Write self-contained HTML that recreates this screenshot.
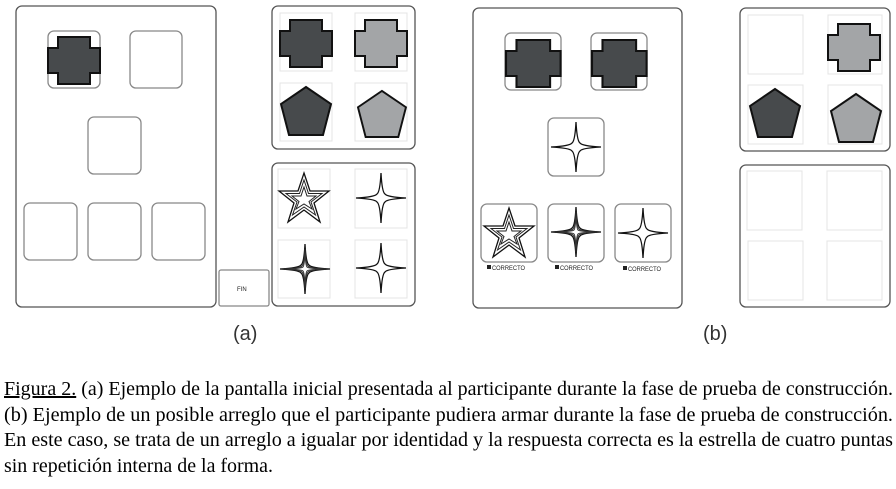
<!DOCTYPE html>
<html><head><meta charset="utf-8"><style>
html,body{margin:0;padding:0;background:#fff;width:896px;height:489px;overflow:hidden}
</style></head><body>
<svg width="896" height="489" viewBox="0 0 896 489" xmlns="http://www.w3.org/2000/svg">
<defs>
<polygon id="cross" points="10,4 42,4 42,15 52,15 52,40 42,40 42,51 10,51 10,40 0,40 0,15 10,15" stroke="#111" stroke-width="2" stroke-linejoin="miter"/>
<polygon id="pent" points="26,2 51,19 43,50 9,50 1,19" stroke="#111" stroke-width="2"/>
<path id="star4" d="M26,1 Q27,20 30,22 Q32,25 51,26 Q32,27 30,30 Q27,32 26,51 Q25,32 22,30 Q20,27 1,26 Q20,25 22,22 Q25,20 26,1Z" fill="#fff" stroke="#111" stroke-width="1.3"/>
<g id="star4d">
<path d="M26,1 Q27,20 30,22 Q32,25 51,26 Q32,27 30,30 Q27,32 26,51 Q25,32 22,30 Q20,27 1,26 Q20,25 22,22 Q25,20 26,1Z" fill="#fff" stroke="#111" stroke-width="1.3"/>
<path d="M26,6 Q26.8,21 29,23 Q31,25.2 46,26 Q31,26.8 29,29 Q26.8,31 26,46 Q25.2,31 23,29 Q21,26.8 6,26 Q21,25.2 23,23 Q25.2,21 26,6Z" fill="none" stroke="#333" stroke-width="1"/>
<path d="M26,10 Q26.6,22.5 28,24 Q29.5,25.4 42,26 Q29.5,26.6 28,28 Q26.6,29.5 26,42 Q25.4,29.5 24,28 Q22.5,26.6 10,26 Q22.5,25.4 24,24 Q25.4,22.5 26,10Z" fill="none" stroke="#333" stroke-width="1"/>
</g>
<g id="star5">
<polygon points="26,1 32,19 51,19 36,31 42,50 26,38 10,50 16,31 1,19 20,19" fill="#fff" stroke="#111" stroke-width="1.3"/>
<polygon points="26,8 30.5,21.5 44,21.5 33,30 37.5,43 26,35 14.5,43 19,30 8,21.5 21.5,21.5" fill="none" stroke="#222" stroke-width="1"/>
<polygon points="26,15 29,24 38,24 31,29.5 34,37 26,32 18,37 21,29.5 14,24 23,24" fill="none" stroke="#222" stroke-width="1"/>
</g>
</defs>
<g fill="none" stroke="#555" stroke-width="1.3">
<rect x="16" y="6" width="200" height="301" rx="6"/>
<rect x="48" y="31" width="52" height="57" rx="6" stroke="#888"/>
<rect x="130" y="31" width="52" height="57" rx="6" stroke="#888"/>
<rect x="88" y="117" width="53" height="57" rx="6" stroke="#888"/>
<rect x="24" y="203" width="53" height="57" rx="6" stroke="#888"/>
<rect x="88" y="203" width="53" height="57" rx="6" stroke="#888"/>
<rect x="152" y="203" width="53" height="57" rx="6" stroke="#888"/>
<rect x="219" y="270" width="50" height="36" rx="2" stroke="#888"/>
<rect x="272" y="6" width="143" height="143" rx="6"/>
<rect x="272" y="163" width="143" height="143" rx="6"/>
<g stroke="#e4e4e4" stroke-width="1">
<rect x="280" y="13" width="52" height="58"/><rect x="355" y="13" width="52" height="58"/>
<rect x="280" y="83" width="52" height="58"/><rect x="355" y="83" width="52" height="58"/>
<rect x="278" y="169" width="52" height="59"/><rect x="355" y="169" width="52" height="59"/>
<rect x="278" y="240" width="52" height="58"/><rect x="355" y="240" width="52" height="58"/>
</g>
<rect x="473" y="8" width="209" height="300" rx="6"/>
<rect x="505" y="33" width="56" height="57" rx="6" stroke="#888"/>
<rect x="591" y="33" width="56" height="57" rx="6" stroke="#888"/>
<rect x="548" y="118" width="56" height="58" rx="6" stroke="#888"/>
<rect x="481" y="204" width="56" height="58" rx="6" stroke="#888"/>
<rect x="548" y="204" width="56" height="58" rx="6" stroke="#888"/>
<rect x="615" y="204" width="56" height="58" rx="6" stroke="#888"/>
<rect x="740" y="8" width="150" height="143" rx="6"/>
<rect x="740" y="165" width="150" height="142" rx="6"/>
<g stroke="#e4e4e4" stroke-width="1">
<rect x="748" y="15" width="55" height="59"/><rect x="828" y="15" width="54" height="59"/>
<rect x="748" y="85" width="55" height="59"/><rect x="828" y="85" width="54" height="59"/>
<rect x="747" y="171" width="55" height="59"/><rect x="827" y="171" width="55" height="59"/>
<rect x="748" y="241" width="55" height="59"/><rect x="827" y="241" width="55" height="59"/>
</g>
</g>
<use href="#cross" x="48" y="33" fill="#474a4c"/>
<use href="#cross" x="280" y="16" fill="#474a4c"/>
<use href="#cross" x="355" y="16" fill="#a3a5a7"/>
<use href="#pent" x="280" y="85" fill="#474a4c"/>
<use href="#pent" x="357" y="89" fill="#a3a5a7" transform="translate(357,89) scale(0.96) translate(-357,-89)"/>
<use href="#star5" x="278" y="172"/>
<use href="#star4" x="355" y="172"/>
<use href="#star4d" x="279" y="243"/>
<use href="#star4" x="355" y="242"/>
<use href="#cross" x="506" y="36" fill="#474a4c" transform="translate(506,36) scale(1.05,1) translate(-506,-36)"/>
<use href="#cross" x="592" y="36" fill="#474a4c" transform="translate(592,36) scale(1.05,1) translate(-592,-36)"/>
<use href="#cross" x="828" y="20" fill="#a3a5a7"/>
<use href="#pent" x="749" y="87" fill="#474a4c"/>
<use href="#pent" x="830" y="92" fill="#a3a5a7"/>
<use href="#star4" x="550" y="121"/>
<use href="#star5" x="483" y="207"/>
<use href="#star4d" x="550" y="206"/>
<use href="#star4" x="617" y="207"/>
<g font-family="Liberation Sans, sans-serif" font-size="6" fill="#222">
<text x="237" y="291" font-size="6">FIN</text>
<rect x="487" y="265" width="4" height="4" fill="#222"/><text x="492" y="270" textLength="33" lengthAdjust="spacingAndGlyphs">CORRECTO</text>
<rect x="555" y="265" width="4" height="4" fill="#222"/><text x="560" y="270" textLength="33" lengthAdjust="spacingAndGlyphs">CORRECTO</text>
<rect x="623" y="266" width="4" height="4" fill="#222"/><text x="628" y="271" textLength="33" lengthAdjust="spacingAndGlyphs">CORRECTO</text>
</g>
<g font-family="Liberation Sans, sans-serif" font-size="20" fill="#333">
<text x="233" y="340">(a)</text>
<text x="703" y="340">(b)</text>
</g>
<g font-family="Liberation Serif, serif" font-size="20" fill="#000">
<text x="4" y="395" textLength="889" lengthAdjust="spacingAndGlyphs"><tspan text-decoration="underline">Figura 2.</tspan> (a) Ejemplo de la pantalla inicial presentada al participante durante la fase de prueba de construcción.</text>
<text x="4" y="421" textLength="889" lengthAdjust="spacingAndGlyphs">(b) Ejemplo de un posible arreglo que el participante pudiera armar durante la fase de prueba de construcción.</text>
<text x="4" y="446" textLength="889" lengthAdjust="spacingAndGlyphs">En este caso, se trata de un arreglo a igualar por identidad y la respuesta correcta es la estrella de cuatro puntas</text>
<text x="4" y="472" textLength="269" lengthAdjust="spacingAndGlyphs">sin repetición interna de la forma.</text>
</g>
</svg>
</body></html>
